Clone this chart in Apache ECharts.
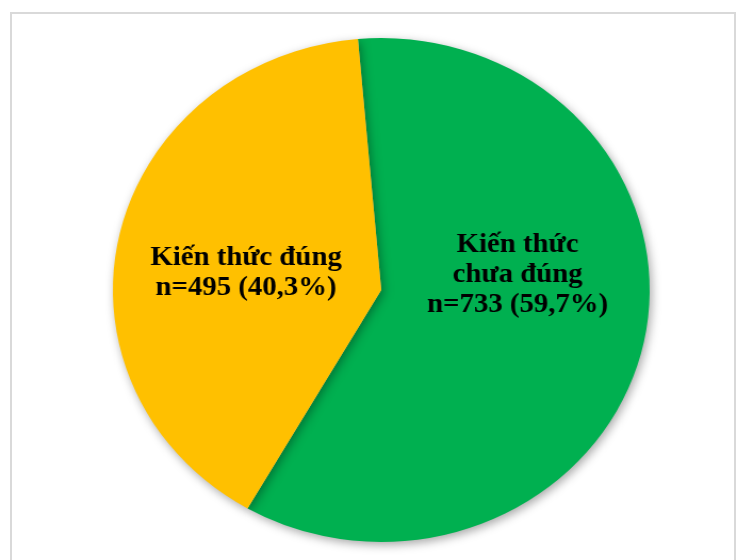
<!DOCTYPE html>
<html>
<head>
<meta charset="utf-8">
<script src="https://cdn.jsdelivr.net/npm/echarts@6/dist/echarts.min.js"></script>
<style>
  html, body { margin: 0; padding: 0; background: #ffffff; }
  body { width: 738px; height: 560px; position: relative; overflow: hidden; }
  #frame {
    position: absolute; left: 10px; top: 12px;
    width: 726px; height: 560px;
    border: 2px solid #d9d9d9; box-sizing: border-box;
  }
  /* the plot is drawn slightly wider than tall */
  #chart {
    position: absolute; left: 0; top: 0;
    width: 693px; height: 560px;
    transform: scaleX(1.065); transform-origin: 0 0;
  }
</style>
</head>
<body>
<div id="frame"></div>
<div id="chart"></div>
<script>
// Knowledge assessment: correct vs. not yet correct
const categories = ['Kiến thức\nchưa đúng', 'Kiến thức đúng'];
const counts = [733, 495];
const colors = ['#00B050', '#FFC000'];

// per-slice label nudges (px) from the default inner position
const labelShift = [[2, -43], [-1, 11]];

const chart = echarts.init(document.getElementById('chart'), null, { renderer: 'canvas' });

chart.setOption({
  backgroundColor: 'transparent',
  animation: false,
  series: [{
    type: 'pie',
    center: [358, 290],
    radius: 252,
    startAngle: 95,
    clockwise: true,
    percentPrecision: 1,
    data: categories.map((name, i) => ({
      name: name,
      value: counts[i],
      itemStyle: { color: colors[i] }
    })),
    itemStyle: {
      borderWidth: 0,
      shadowBlur: 10,
      shadowColor: 'rgba(0,0,0,0.35)',
      shadowOffsetX: 2,
      shadowOffsetY: 3
    },
    label: {
      show: true,
      position: 'inner',
      fontFamily: '"Liberation Serif", "Times New Roman", serif',
      fontWeight: 'bold',
      fontSize: 27,
      lineHeight: 30,
      color: '#000000',
      align: 'center',
      formatter: p => p.name + '\nn=' + p.value + ' (' + p.percent.toFixed(1).replace('.', ',') + '%)'
    },
    labelLine: { show: false },
    labelLayout: p => ({ dx: labelShift[p.dataIndex][0], dy: labelShift[p.dataIndex][1] }),
    emphasis: { disabled: true }
  }]
});
</script>
</body>
</html>
